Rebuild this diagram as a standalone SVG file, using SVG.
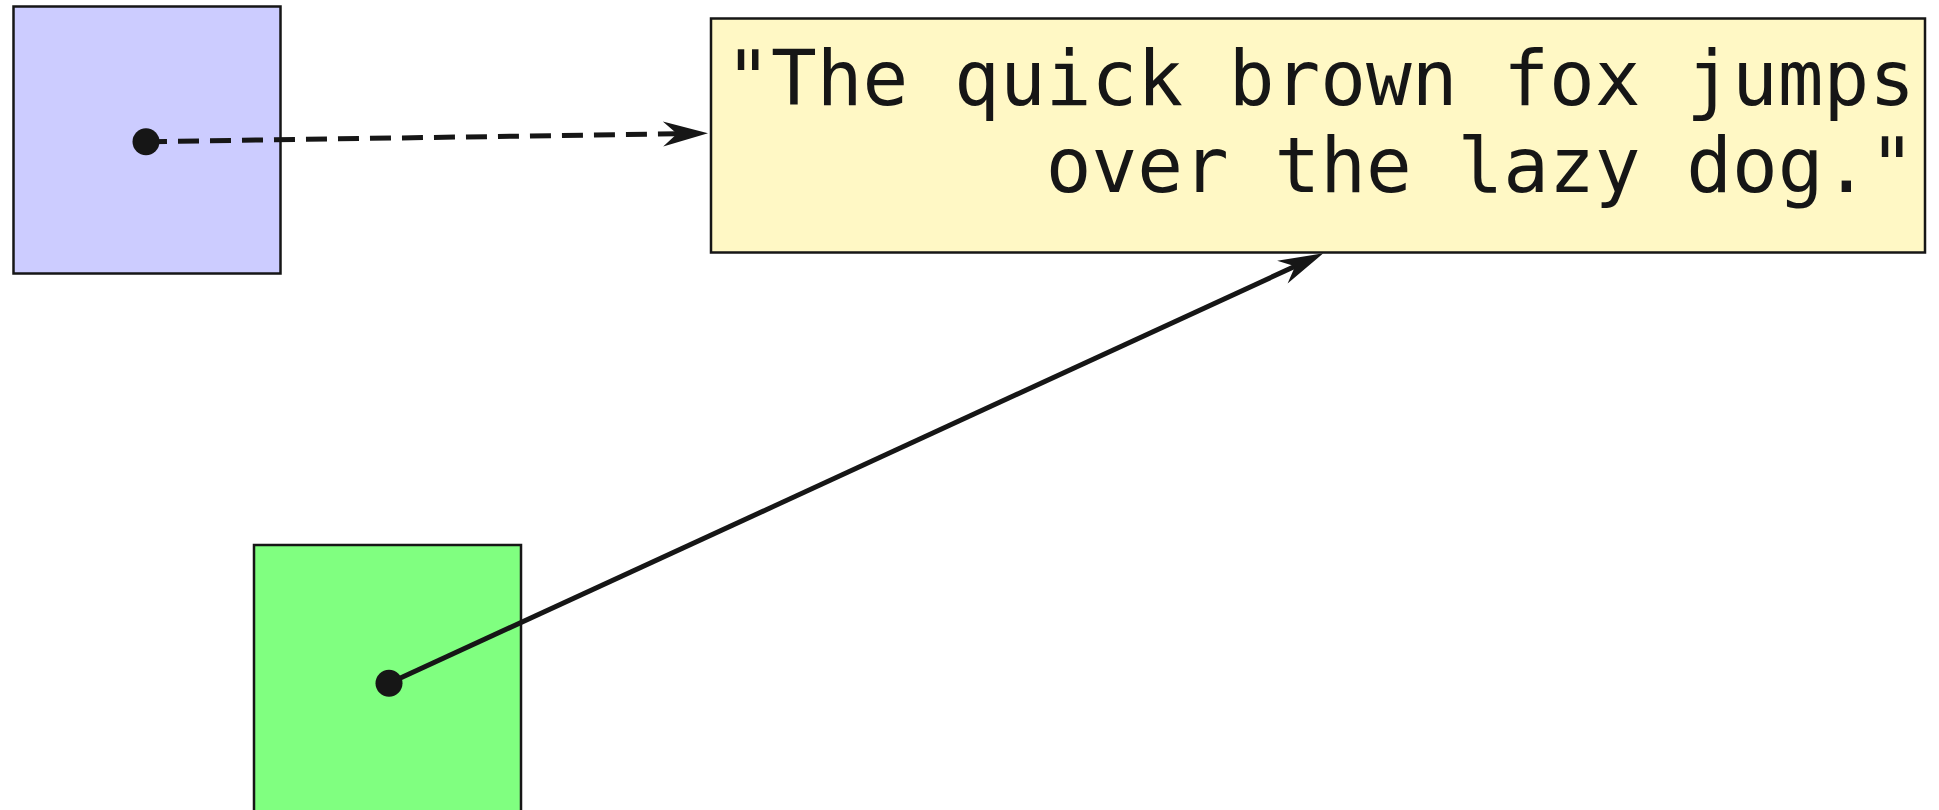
<svg xmlns="http://www.w3.org/2000/svg" width="1939" height="810" viewBox="0 0 1939 810">
<style>
.box{stroke:#161616;stroke-width:2.5}
.conn{stroke:#161616;stroke-width:5;fill:none}
.dot{fill:#161616}
.txt{font-family:"DejaVu Sans Mono","Liberation Mono",monospace;font-size:76px;fill:#161616}
</style>
<defs>
<marker id="arr" markerUnits="userSpaceOnUse" markerWidth="50" markerHeight="30" refX="14" refY="15" orient="auto" overflow="visible">
<path d="M0,2.5 L45,15 L0,27.5 L14,15 Z" fill="#161616"/>
</marker>
</defs>
<rect width="1939" height="810" fill="#ffffff"/>
<g id="blue">
<rect class="box" x="13.5" y="6.5" width="267" height="267" fill="#ccccff"/>
</g>
<g id="green">
<rect class="box" x="254" y="545" width="267" height="280" fill="#80ff80"/>
</g>
<g id="note">
<rect class="box" x="711" y="18.5" width="1214" height="234" fill="#fff8c5"/>
<text class="txt" x="1915" y="105" text-anchor="end">"The quick brown fox jumps</text>
<text class="txt" x="1915" y="191.5" text-anchor="end">over the lazy dog."</text>
</g>
<g id="connectors">
<line class="conn" x1="146" y1="141.7" x2="677" y2="133.8" stroke-dasharray="21 11" marker-end="url(#arr)"/>
<circle class="dot" cx="146" cy="141.7" r="13.5"/>
<line class="conn" x1="389" y1="683.3" x2="1295.1" y2="266.3" marker-end="url(#arr)"/>
<circle class="dot" cx="389" cy="683.3" r="13.5"/>
</g>
</svg>
